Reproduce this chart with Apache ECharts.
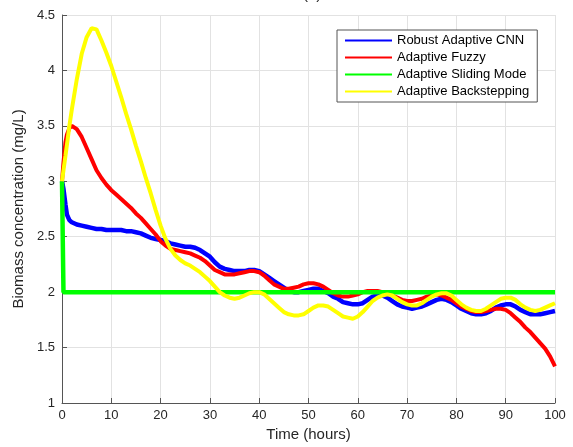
<!DOCTYPE html>
<html>
<head>
<meta charset="utf-8">
<script src="https://cdn.jsdelivr.net/npm/echarts@6/dist/echarts.min.js"></script>
<style>
  html, body { margin: 0; padding: 0; background: #fff; }
  #chart { width: 573px; height: 447px; }
</style>
</head>
<body>
<div id="chart"></div>
<script>
// Sampling times (hours)
const TIME = [0, 0.3, 0.7, 1, 1.5, 2, 3, 4, 5, 6, 7, 8, 9, 10,
  11, 12, 13, 14, 15, 16, 17, 18, 19, 20, 21, 22, 23, 24, 25, 26, 27, 28, 29, 30,
  31, 32, 33, 34, 35, 36, 37, 38, 39, 40, 41, 42, 43, 44, 45, 46, 47, 48, 49, 50,
  51, 52, 53, 54, 55, 56, 57, 58, 59, 60, 61, 62, 63, 64, 65, 66, 67, 68, 69, 70,
  71, 72, 73, 74, 75, 76, 77, 78, 79, 80, 81, 82, 83, 84, 85, 86, 87, 88, 89, 90,
  91, 92, 93, 94, 95, 96, 97, 98, 99, 100];

const SERIES_NAMES = ['Robust Adaptive CNN', 'Adaptive Fuzzy', 'Adaptive Sliding Mode', 'Adaptive Backstepping'];
const SERIES_COLORS = ['#0000ff', '#ff0000', '#00ff00', '#ffff00'];

// Biomass concentration (mg/L) for each controller
const CNN = [3.0, 2.93, 2.79, 2.7, 2.65, 2.63, 2.61, 2.6, 2.59, 2.58, 2.57, 2.57, 2.56, 2.56,
  2.56, 2.56, 2.55, 2.55, 2.54, 2.53, 2.51, 2.49, 2.48, 2.47, 2.46, 2.44, 2.43, 2.42, 2.41, 2.41, 2.4, 2.38, 2.35, 2.32,
  2.27, 2.23, 2.21, 2.2, 2.19, 2.19, 2.19, 2.2, 2.2, 2.19, 2.16, 2.13, 2.1, 2.07, 2.04, 2.01, 2.0, 2.0, 2.01, 2.02,
  2.03, 2.03, 2.01, 1.99, 1.96, 1.94, 1.91, 1.9, 1.89, 1.89, 1.9, 1.93, 1.96, 1.97, 1.97, 1.95, 1.92, 1.89, 1.87, 1.86,
  1.85, 1.86, 1.87, 1.89, 1.91, 1.93, 1.94, 1.93, 1.91, 1.88, 1.85, 1.83, 1.81, 1.8, 1.8, 1.81, 1.83, 1.86, 1.88, 1.89,
  1.89, 1.87, 1.84, 1.82, 1.8, 1.8, 1.8, 1.81, 1.82, 1.83];

const FUZZY = [3.0, 3.17, 3.35, 3.42, 3.48, 3.5, 3.47, 3.4, 3.3, 3.2, 3.1, 3.03, 2.97, 2.92,
  2.88, 2.84, 2.8, 2.76, 2.71, 2.67, 2.62, 2.57, 2.52, 2.46, 2.42, 2.39, 2.38, 2.37, 2.36, 2.35, 2.33, 2.31, 2.28, 2.24,
  2.2, 2.18, 2.16, 2.16, 2.16, 2.17, 2.18, 2.19, 2.19, 2.18, 2.15, 2.11, 2.07, 2.05, 2.03, 2.03, 2.04, 2.05, 2.07, 2.08,
  2.08, 2.07, 2.05, 2.02, 1.99, 1.97, 1.96, 1.96, 1.97, 1.98, 2.0, 2.01, 2.01, 2.01, 2.0, 1.99, 1.97, 1.95, 1.93, 1.92,
  1.92, 1.93, 1.94, 1.96, 1.97, 1.98, 1.97, 1.95, 1.93, 1.9, 1.87, 1.85, 1.83, 1.82, 1.82, 1.83, 1.84, 1.85, 1.85, 1.84,
  1.81, 1.77, 1.73, 1.68, 1.64, 1.59, 1.54, 1.49, 1.42, 1.33];

const SLIDING = [3.0, 2.0, 2.0, 2.0, 2.0, 2.0, 2.0, 2.0, 2.0, 2.0, 2.0, 2.0, 2.0, 2.0,
  2.0, 2.0, 2.0, 2.0, 2.0, 2.0, 2.0, 2.0, 2.0, 2.0, 2.0, 2.0, 2.0, 2.0, 2.0, 2.0, 2.0, 2.0, 2.0, 2.0,
  2.0, 2.0, 2.0, 2.0, 2.0, 2.0, 2.0, 2.0, 2.0, 2.0, 2.0, 2.0, 2.0, 2.0, 2.0, 2.0, 2.0, 2.0, 2.0, 2.0,
  2.0, 2.0, 2.0, 2.0, 2.0, 2.0, 2.0, 2.0, 2.0, 2.0, 2.0, 2.0, 2.0, 2.0, 2.0, 2.0, 2.0, 2.0, 2.0, 2.0,
  2.0, 2.0, 2.0, 2.0, 2.0, 2.0, 2.0, 2.0, 2.0, 2.0, 2.0, 2.0, 2.0, 2.0, 2.0, 2.0, 2.0, 2.0, 2.0, 2.0,
  2.0, 2.0, 2.0, 2.0, 2.0, 2.0, 2.0, 2.0, 2.0, 2.0];

const BACKSTEPPING = [3.0, 3.1, 3.23, 3.33, 3.5, 3.65, 3.92, 4.15, 4.3, 4.38, 4.37, 4.27, 4.16, 4.04,
  3.9, 3.76, 3.61, 3.47, 3.32, 3.18, 3.03, 2.89, 2.74, 2.6, 2.48, 2.39, 2.33, 2.29, 2.26, 2.24, 2.21, 2.18, 2.14, 2.1,
  2.05, 2.0, 1.97, 1.95, 1.94, 1.95, 1.97, 1.99, 2.0, 2.0, 1.98, 1.94, 1.9, 1.86, 1.82, 1.8, 1.79, 1.79, 1.8, 1.83,
  1.86, 1.88, 1.88, 1.87, 1.84, 1.81, 1.78, 1.77, 1.76, 1.78, 1.82, 1.87, 1.92, 1.95, 1.97, 1.98, 1.97, 1.94, 1.91, 1.89,
  1.88, 1.88, 1.9, 1.93, 1.96, 1.98, 1.99, 1.99, 1.97, 1.93, 1.89, 1.86, 1.84, 1.83, 1.83, 1.85, 1.88, 1.91, 1.94, 1.95,
  1.95, 1.93, 1.89, 1.86, 1.84, 1.83, 1.84, 1.86, 1.88, 1.9];

const X_TICKS = { min: 0, max: 100, interval: 10 };
const Y_TICKS = { min: 1, max: 4.5, interval: 0.5 };

const VALUES = [CNN, FUZZY, SLIDING, BACKSTEPPING];
const WIDTHS = [4.5, 4, 4.5, 4];

const FONT = '"Liberation Sans", Arial, Helvetica, sans-serif';

const chart = echarts.init(document.getElementById('chart'), null, { renderer: 'canvas' });

chart.setOption({
  animation: false,
  backgroundColor: '#ffffff',
  title: {
    text: '(a)',
    left: 298,
    top: -18,
    textStyle: { fontFamily: FONT, fontSize: 15, fontWeight: 'normal', color: '#262626' }
  },
  grid: { left: 62, right: 18, top: 15, bottom: 40, containLabel: false },
  legend: {
    orient: 'vertical',
    left: 337,
    top: 30,
    padding: [2, 8, 2, 8],
    itemGap: 0,
    itemWidth: 47,
    itemHeight: 2,
    icon: 'rect',
    borderColor: '#555555',
    borderWidth: 1,
    backgroundColor: '#ffffff',
    data: SERIES_NAMES,
    textStyle: { fontFamily: FONT, fontSize: 13, color: '#000000', lineHeight: 17, padding: [0, 0, 0, 0] }
  },
  xAxis: {
    type: 'value',
    min: X_TICKS.min,
    max: X_TICKS.max,
    interval: X_TICKS.interval,
    name: 'Time (hours)',
    nameLocation: 'middle',
    nameGap: 24,
    nameTextStyle: { fontFamily: FONT, fontSize: 15, color: '#262626' },
    axisLine: { show: true, lineStyle: { color: '#555555', width: 1 } },
    axisTick: { show: true, inside: true, length: 5, lineStyle: { color: '#555555' } },
    axisLabel: { fontFamily: FONT, fontSize: 13, color: '#262626', margin: 6 },
    splitLine: { show: true, lineStyle: { color: '#e2e2e2', width: 1 } }
  },
  yAxis: {
    type: 'value',
    min: Y_TICKS.min,
    max: Y_TICKS.max,
    interval: Y_TICKS.interval,
    name: 'Biomass concentration (mg/L)',
    nameLocation: 'middle',
    nameGap: 32,
    nameTextStyle: { fontFamily: FONT, fontSize: 15, color: '#262626' },
    axisLine: { show: true, lineStyle: { color: '#555555', width: 1 } },
    axisTick: { show: true, inside: true, length: 5, lineStyle: { color: '#555555' } },
    axisLabel: { fontFamily: FONT, fontSize: 13, color: '#262626', margin: 7 },
    splitLine: { show: true, lineStyle: { color: '#e2e2e2', width: 1 } }
  },
  series: SERIES_NAMES.map((name, i) => ({
    name: name,
    type: 'line',
    data: TIME.map((t, k) => [t, VALUES[i][k]]),
    symbol: 'none',
    smooth: false,
    color: SERIES_COLORS[i],
    lineStyle: { color: SERIES_COLORS[i], width: WIDTHS[i] },
    itemStyle: { color: SERIES_COLORS[i] }
  }))
});
</script>
</body>
</html>
